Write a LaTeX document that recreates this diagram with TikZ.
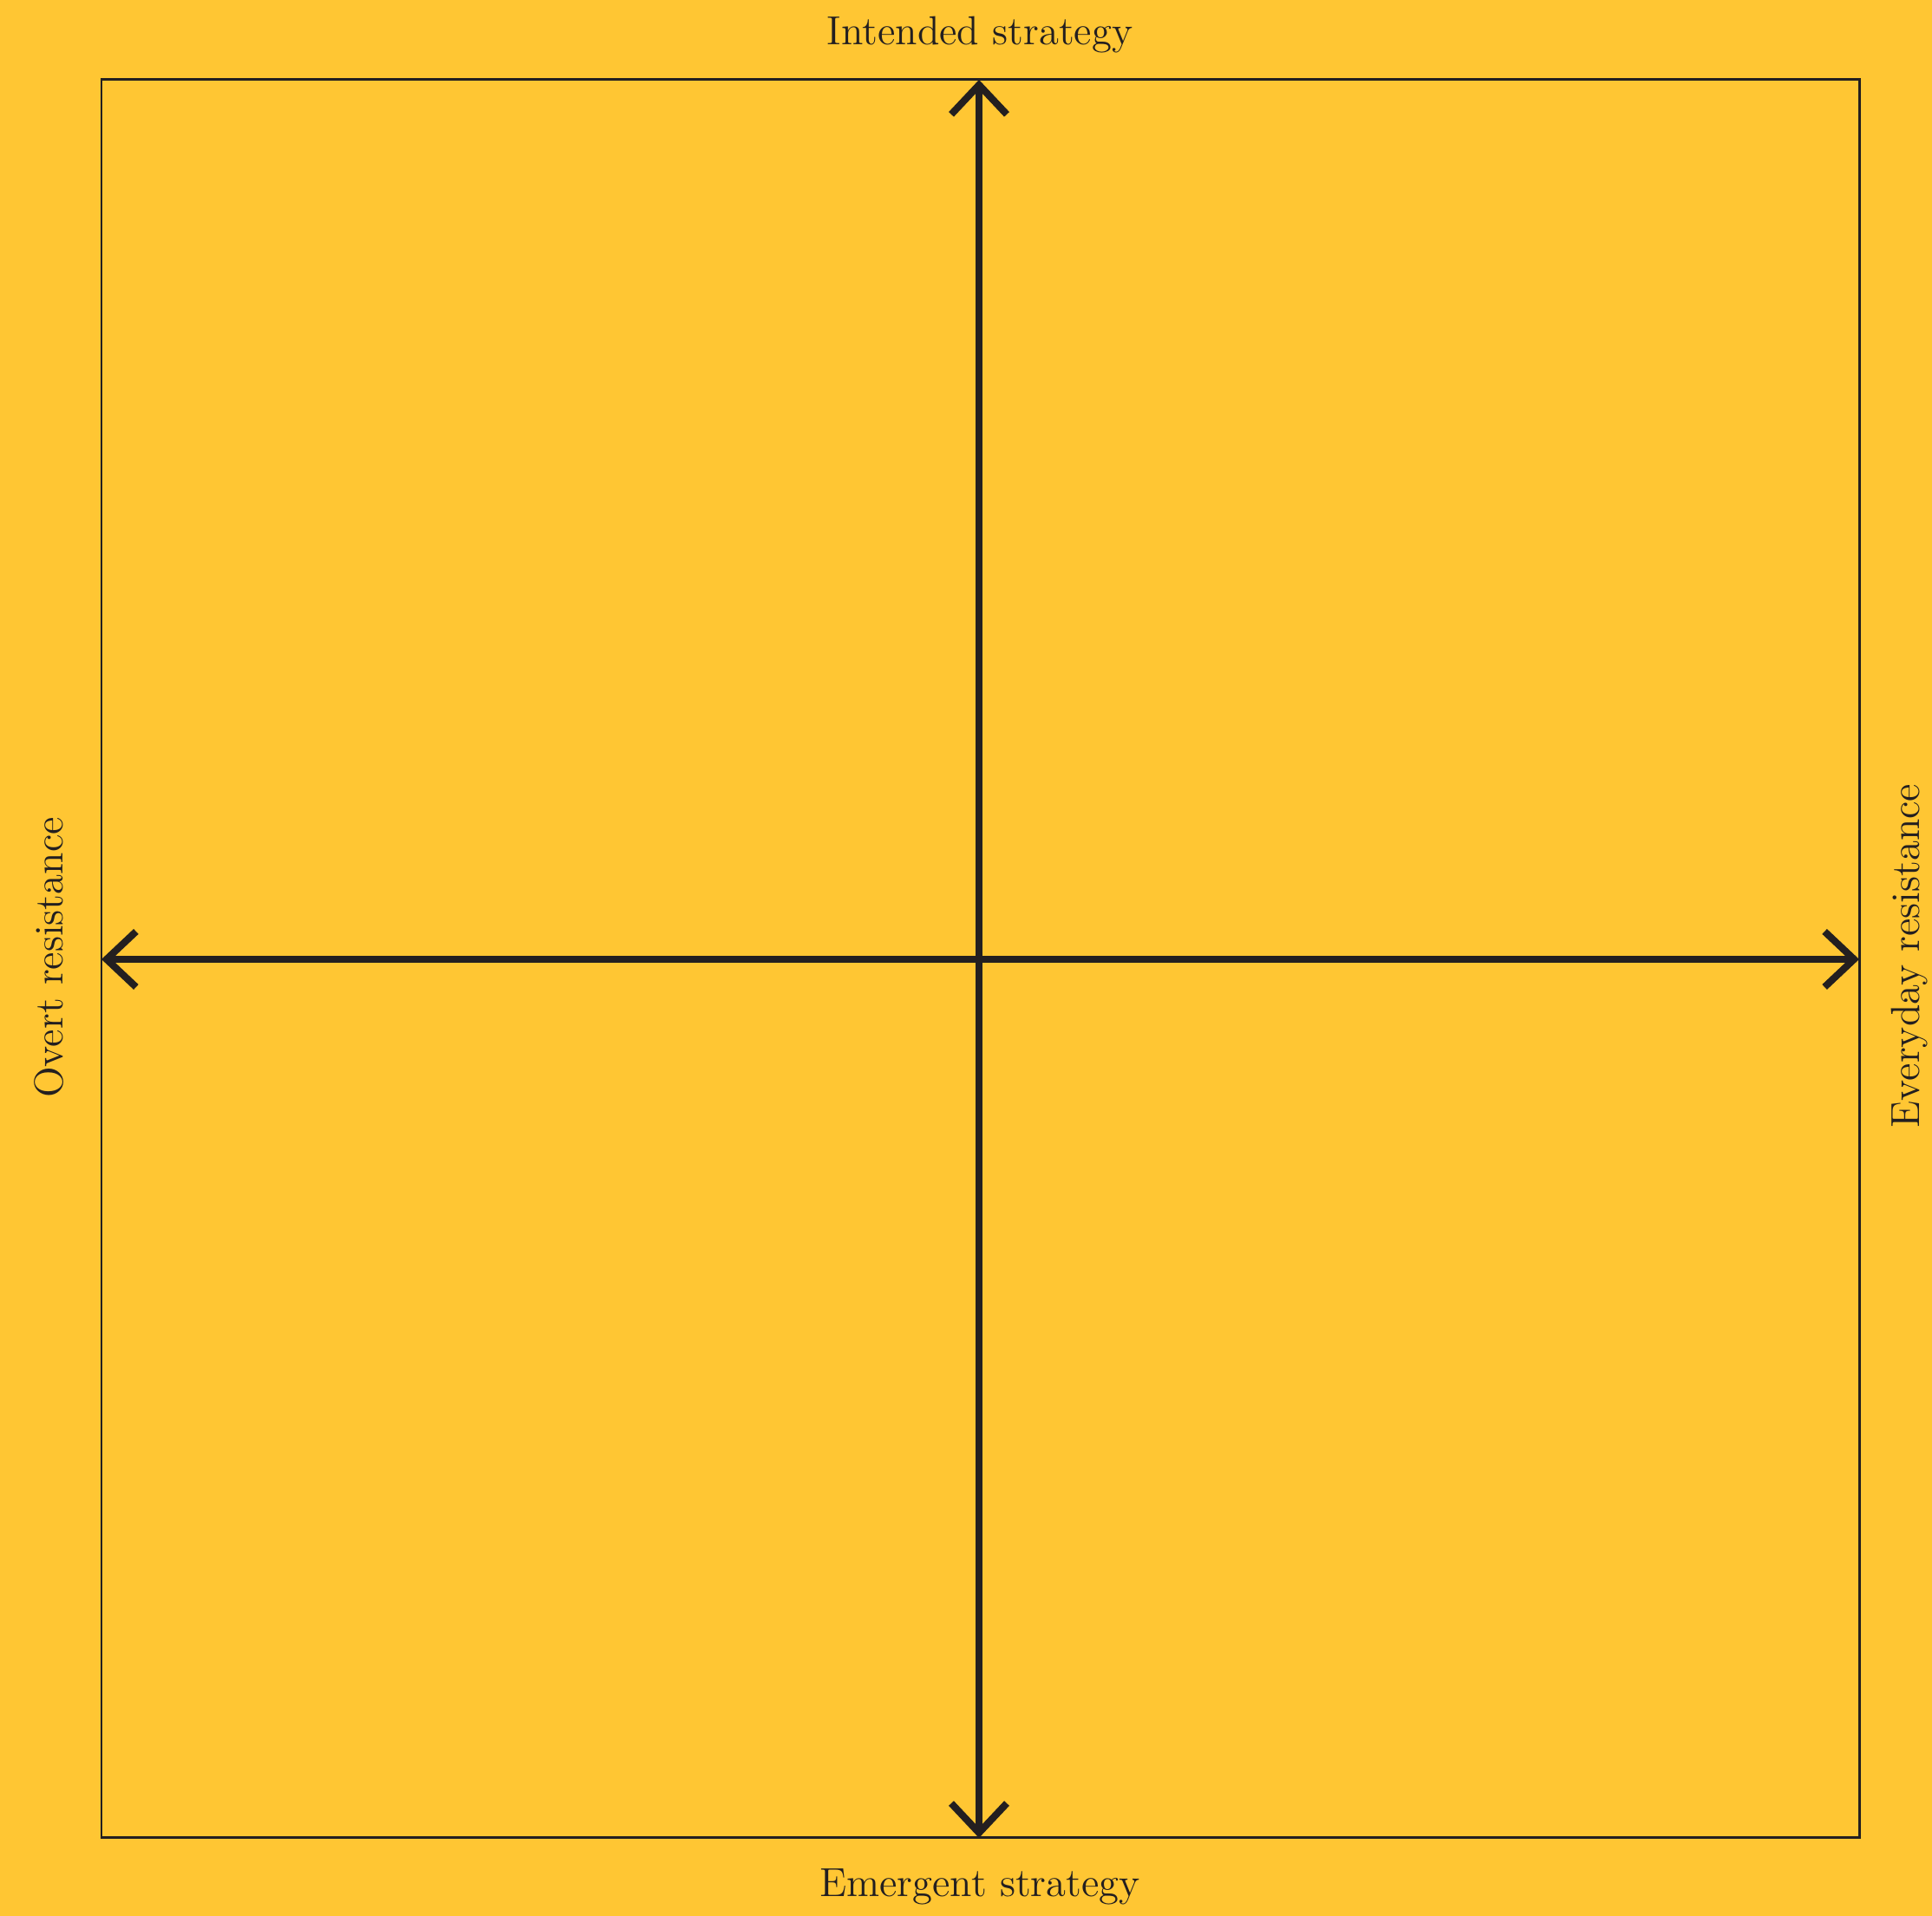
\documentclass[tikz,border=0pt]{standalone}
\usetikzlibrary{arrows.meta}
\definecolor{quadyellow}{HTML}{FFC633}
\definecolor{quadink}{HTML}{231F20}

\begin{document}
\begin{tikzpicture}[
    font=\fontsize{13.3}{16}\selectfont,
    frame/.style={draw=quadink, line width=0.85pt},
    axis/.style={{Straight Barb[length=3.4mm, width=6.4mm]}-{Straight Barb[length=3.4mm, width=6.4mm]}, draw=quadink, line width=2.3pt},
    label/.style={text=quadink, inner sep=0pt, anchor=base}
  ]
    \fill[quadyellow] (0,0) rectangle (22.28,22.09);
    \useasboundingbox (0,0) rectangle (22.28,22.09);

    \draw[frame] (1.17,0.90) rectangle (21.44,21.17);

    \coordinate (top) at (11.29,21.17);
    \coordinate (bottom) at (11.29,0.90);
    \coordinate (left) at (1.17,11.03);
    \coordinate (right) at (21.44,11.03);

    \draw[axis] (bottom) -- (top);
    \draw[axis] (left) -- (right);

    \node[label] (intended) at (11.30,21.57) {Intended strategy};
    \node[label] (emergent) at (11.30,0.22) {Emergent strategy};
    \node[label, rotate=90] (overt) at (0.72,11.05) {Overt resistance};
    \node[label, rotate=90] (everyday) at (22.13,11.07) {Everyday resistance};
  \end{tikzpicture}
\end{document}
